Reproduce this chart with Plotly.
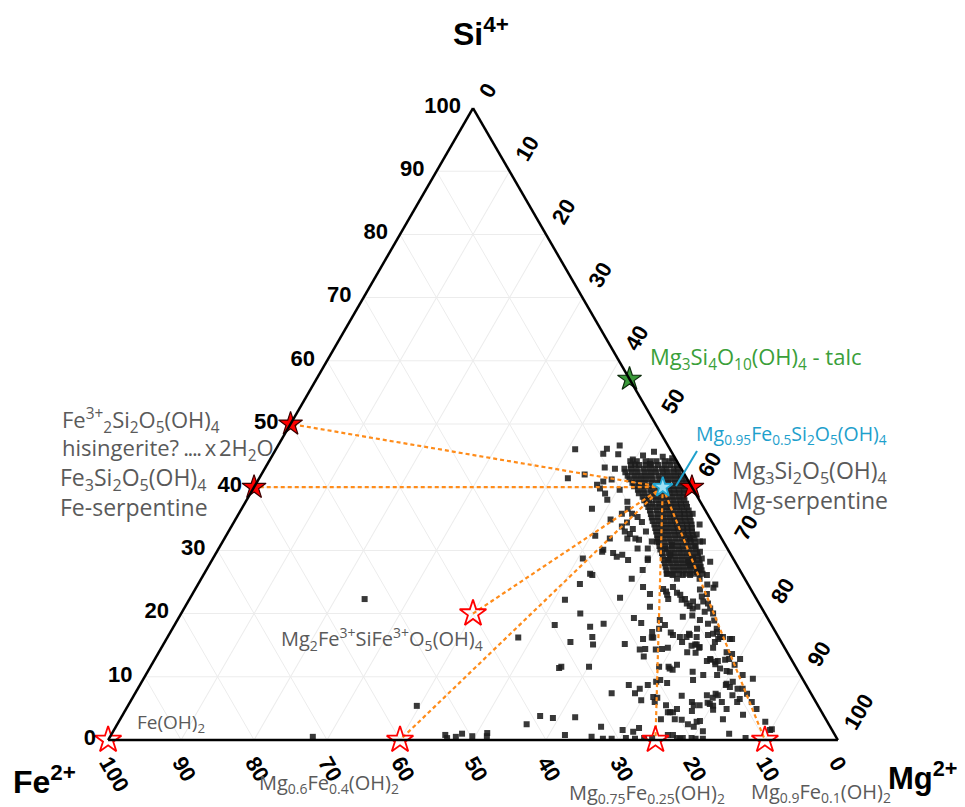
import plotly.graph_objects as go

# ---------------- data (percent; Fe = 100 - Si - Mg) ----------------
scatter_si = [22.3, 5.4, 16.2, 18.2, 11.4, 2.5, 3.8, 3.5, 0.8, 0.3, 0.5, 1.0, 0.6, 1.1, 0.6, 0.5,
              15.5, 16.3, 15.1, 15.2, 11.6, 11.6, 8.7, 7.4, 7.4, 6.3, 8.7, 16.2, 14.3, 14.4, 13.2, 14.3,
              11.6, 14.6, 16.6, 11.6, 11.1, 11.9, 9.5, 9.2, 9.0, 6.8, 6.7, 5.5, 4.4, 4.4, 4.9, 7.0,
              9.5, 10.8, 10.3, 6.0, 5.5, 4.6, 2.5, 2.9, 3.0, 2.1, 1.4, 16.3, 16.3, 16.3, 14.9, 15.1,
              14.6, 13.8, 14.6, 12.5, 12.7, 12.0, 12.5, 10.3, 10.9, 12.8, 13.6, 11.9, 12.8, 8.7, 8.4,
              8.1, 8.1, 6.5, 7.1, 7.3, 6.7, 5.9, 5.4, 3.3, 1.0, 0.3, 9.7, 10.3, 16.8, 16.3,
              3.6, 0.8, 0.5, 2.1, 0.2, 0.2, 1.6, 0.3, 1.3, 0.2, 1.9, 0.3, 0.3, 3.3, 0.8, 0.8, 0.3,
              0.3, 0.3, 0.2, 0.2, 0.2,
              32.3, 30.1, 29.6, 29.0, 29.3, 26.1, 32.6, 31.9, 31.7, 30.3, 28.5, 31.4, 31.4, 24.2, 23.1,
              22.5, 21.1, 18.4, 19.3, 18.5, 17.1, 16.2, 19.0, 17.6, 18.2, 17.0, 23.9, 23.5, 23.0, 22.3,
              24.2, 23.3, 23.0, 22.2, 22.3, 21.6, 21.2, 21.9, 21.1, 23.8, 24.6, 24.1, 23.1, 22.7, 21.9,
              21.6, 20.8, 20.3, 20.0, 19.0, 19.7, 19.5, 17.6, 18.4, 18.9, 17.1, 16.3, 16.0, 16.0, 16.8,
              26.3, 26.1, 25.5, 26.1, 26.1, 26.6, 25.5, 27.7, 28.7, 28.7, 28.5, 29.3, 30.3, 30.9, 30.6,
              31.4, 31.9,
              46.0, 46.1, 45.3, 46.6, 45.2, 44.4, 43.6, 43.7, 43.1, 42.9, 42.0, 41.4, 40.9, 41.2, 40.4,
              39.8, 39.0, 39.6, 38.0, 36.6, 37.7, 36.6, 35.8, 35.8, 34.9, 34.4, 35.3, 33.4, 34.5, 33.0,
              33.0, 31.9, 33.8, 31.9, 29.8, 28.7, 26.3, 24.7, 28.5, 30.3, 26.9, 25.5, 28.7,
              16.0, 14.4, 11.3, 15.5, 16.6, 13.9, 15.1, 14.7, 8.1, 6.0, 4.4, 3.3, 3.2, 5.5, 7.1, 5.7,
              4.8, 7.1, 6.0, 8.9, 9.2, 4.9, 6.0, 4.0, 7.3, 6.0, 4.9, 2.9, 1.7, 12.8, 12.4, 11.3, 12.7,
              10.8, 16.0, 13.9, 15.5, 16.6, 20.8, 17.6, 24.6, 26.1, 27.1, 28.2, 29.8, 28.2, 32.5, 31.4,
              34.1, 35.8, 22.2, 20.0, 17.9, 1.6, 45.0, 44.8, 45.6, 44.6]
scatter_mg = [24.0, 39.6, 48.1, 52.1, 56.1, 56.1, 57.3, 59.2, 45.8, 46.3, 47.4, 48.0, 49.6, 51.4, 51.6, 27.8,
              55.6, 58.2, 58.9, 63.2, 56.3, 60.1, 67.0, 65.3, 68.5, 69.9, 69.6, 66.4, 65.7, 66.4, 66.8, 67.9,
              69.7, 69.4, 69.1, 71.0, 71.8, 72.0, 70.9, 70.5, 72.1, 71.3, 71.9, 73.7, 74.5, 75.2, 75.5, 75.1,
              75.4, 74.7, 76.4, 77.0, 77.5, 77.7, 78.2, 79.2, 79.6, 79.2, 80.8, 70.2, 71.1, 72.5, 72.5, 73.1,
              73.7, 73.6, 75.6, 75.8, 76.2, 77.2, 77.3, 78.3, 79.3, 78.7, 78.7, 79.9, 80.2, 80.3, 81.0,
              82.2, 82.9, 83.3, 82.0, 79.6, 79.5, 79.2, 80.2, 82.6, 84.6, 87.2, 83.5, 81.8, 74.5, 75.7,
              62.2, 62.2, 66.0, 66.5, 67.7, 68.9, 69.7, 70.8, 71.3, 72.1, 71.8, 73.3, 74.4, 74.1, 76.3, 77.0, 77.8,
              78.6, 79.8, 80.4, 81.4, 78.3,
              50.6, 52.8, 54.4, 55.2, 55.8, 53.3, 55.2, 56.3, 56.9, 58.8, 59.7, 58.8, 59.5, 61.2, 62.7,
              58.9, 63.7, 58.7, 62.4, 63.8, 66.0, 66.6, 66.1, 66.7, 67.2, 68.6, 64.1, 64.7, 65.1, 65.6,
              65.3, 66.3, 66.9, 67.5, 67.9, 68.5, 69.1, 69.2, 70.2, 69.2, 69.8, 70.9, 70.5, 70.0, 70.6,
              71.4, 72.1, 71.6, 72.9, 71.6, 70.2, 69.0, 71.9, 73.0, 73.6, 74.9, 76.1, 77.2, 75.6, 71.2,
              63.4, 64.3, 65.2, 65.7, 66.7, 67.4, 68.3, 65.9, 65.8, 67.0, 62.5, 62.4, 61.2, 61.8, 65.2,
              65.4, 63.8,
              41.0, 45.3, 45.2, 46.8, 47.3, 49.7, 50.4, 52.4, 46.5, 48.0, 44.3, 42.3, 47.4, 48.4, 46.8,
              47.5, 48.6, 50.3, 49.4, 48.0, 52.3, 52.9, 52.5, 53.9, 51.4, 53.9, 54.9, 55.2, 55.9, 57.2,
              54.3, 52.8, 53.5, 55.2, 52.8, 50.7, 52.9, 52.3, 57.0, 57.4, 59.8, 59.0, 59.6,
              65.3, 68.7, 71.3, 70.9, 71.4, 72.4, 72.9, 73.7, 68.8, 71.9, 74.8, 76.0, 77.0, 78.3, 78.5, 79.6,
              80.5, 80.0, 81.1, 80.3, 81.0, 82.3, 83.2, 85.0, 83.9, 85.2, 86.4, 88.6, 90.1, 76.1, 77.0, 78.2, 78.2,
              79.8, 77.5, 77.8, 75.4, 73.9, 69.7, 74.6, 70.9, 69.0, 67.5, 65.4, 66.2, 68.4, 64.4, 65.8,
              64.0, 62.2, 51.5, 54.7, 57.1, 89.9, 50.8, 53.6, 52.0, 55.0]

# dense core of the analyses (rows of constant Si)
band_si = [44.1, 43.5, 42.9, 42.35, 41.8, 41.25, 40.7, 40.15, 39.6, 39.05, 38.5, 37.95, 37.4, 36.85,
           36.3, 35.75, 35.2, 34.65, 34.1, 33.55, 33.0, 32.45, 31.9, 31.3, 30.7, 30.15, 29.6, 29.05,
           28.5, 27.95, 27.4, 26.85, 26.3]
band_mg = [
    [49.5, 50.4, 51.6, 52.3, 53.1, 54.2, 54.9, 55.7],
    [49.9, 51.0, 51.9, 52.7, 53.6, 54.5, 55.3, 56.2],
    [49.3, 50.2, 51.0, 51.9, 52.7, 53.5, 54.4, 55.1, 56.0, 56.6, 57.3],
    [49.7, 50.6, 51.4, 52.3, 53.1, 53.9, 54.8, 55.5, 56.3, 57.0, 57.7],
    [50.3, 51.2, 52.0, 52.8, 53.6, 54.5, 55.3, 56.1, 56.9, 57.6, 58.3],
    [50.8, 51.6, 52.4, 53.2, 54.0, 54.9, 55.7, 56.5, 57.3, 58.0, 58.6],
    [51.5, 52.4, 53.2, 54.1, 54.9, 55.6, 56.4, 57.3, 58.0, 58.8],
    [52.0, 52.8, 53.6, 54.5, 55.3, 56.0, 56.8, 57.6, 58.4, 59.0],
    [52.8, 53.6, 54.5, 55.3, 56.2, 57.0, 57.7, 58.4, 59.1],
    [53.2, 54.0, 54.9, 55.7, 56.6, 57.4, 58.1, 58.8, 59.4],
    [54.0, 54.8, 55.7, 56.5, 57.3, 58.1, 58.9, 59.6],
    [54.5, 55.2, 56.1, 56.9, 57.7, 58.5, 59.3, 60.0],
    [55.1, 55.9, 56.8, 57.6, 58.3, 59.1, 59.8, 60.5],
    [55.6, 56.4, 57.2, 58.0, 58.7, 59.5, 60.2, 60.9],
    [56.1, 57.0, 57.8, 58.6, 59.3, 60.1, 60.8, 61.4],
    [56.5, 57.4, 58.2, 59.0, 59.7, 60.5, 61.1, 61.8],
    [56.9, 57.7, 58.5, 59.3, 60.0, 60.7, 61.4, 62.1],
    [57.3, 58.1, 58.9, 59.7, 60.4, 61.1, 61.8, 62.5],
    [57.8, 58.6, 59.4, 60.2, 60.9, 61.6, 62.3, 62.9],
    [58.2, 59.0, 59.8, 60.6, 61.3, 62.0, 62.6, 63.2],
    [58.6, 59.4, 60.2, 61.0, 61.7, 62.3, 62.9, 63.5],
    [59.0, 59.8, 60.6, 61.4, 62.1, 62.7, 63.3, 63.9],
    [59.4, 60.2, 61.0, 61.8, 62.6, 63.2, 63.8, 64.4],
    [59.8, 60.6, 61.4, 62.2, 63.0, 63.6, 64.2, 64.7],
    [60.2, 61.0, 61.9, 62.7, 63.4, 64.2, 65.0],
    [60.6, 61.5, 62.3, 63.1, 63.8, 64.6, 65.4],
    [61.1, 62.0, 62.8, 63.6, 64.4, 65.1, 65.9],
    [61.5, 62.4, 63.2, 64.0, 64.8, 65.5, 66.3],
    [61.9, 62.7, 63.5, 64.3, 65.1, 65.9, 66.7],
    [62.3, 63.1, 63.9, 64.7, 65.5, 66.3, 67.1],
    [62.7, 63.6, 64.4, 65.2, 66.0, 66.8, 67.5],
    [63.1, 64.0, 64.8, 65.6, 66.4, 67.2, 67.9],
    [63.5, 64.3, 65.1, 66.0, 66.8, 67.6, 68.3],
]

# reference phases (Si, Fe, Mg)
open_si = [0, 0, 0, 0, 20]
open_fe = [100, 60, 25, 10, 40]
open_mg = [0, 40, 75, 90, 40]

red_si = [50, 40, 40]
red_fe = [50, 60, 0]
red_mg = [0, 0, 60]

talc_si, talc_fe, talc_mg = [57.1], [0.0], [42.9]
mean_si, mean_fe, mean_mg = [40.0], [4.0], [56.0]

# tie-line end members (indices into red_* and open_*)
tie_red = [0, 1]
tie_open = [4, 1, 2, 3]

axis_ticks = [0, 10, 20, 30, 40, 50, 60, 70, 80, 90, 100]

# ---------------- figure ----------------
W, H = 965, 807
pts_si = list(scatter_si)
pts_mg = list(scatter_mg)
for s, row in zip(band_si, band_mg):
    for m in row:
        pts_si.append(s)
        pts_mg.append(m)
pts_fe = [round(100 - s - m, 2) for s, m in zip(pts_si, pts_mg)]

fig = go.Figure()
fig.add_trace(go.Scatterternary(
    a=pts_si, b=pts_fe, c=pts_mg, mode='markers',
    marker=dict(symbol='square', size=6, color='#1c1c1c', opacity=0.88, line=dict(width=0)),
    showlegend=False, hoverinfo='skip'))

ORANGE = '#ff8c1a'
tie_ends = [(red_si[i], red_fe[i], red_mg[i]) for i in tie_red] + \
           [(open_si[i], open_fe[i], open_mg[i]) for i in tie_open]
for (s, f, m) in tie_ends:
    fig.add_trace(go.Scatterternary(
        a=[mean_si[0], s], b=[mean_fe[0], f], c=[mean_mg[0], m], mode='lines',
        line=dict(color=ORANGE, width=2.2, dash='4px,3px'), showlegend=False, hoverinfo='skip'))

fig.add_trace(go.Scatterternary(
    a=open_si, b=open_fe, c=open_mg, mode='markers',
    marker=dict(symbol='star-open', size=20, color='#ff0000', line=dict(width=1.8, color='#ff0000')),
    showlegend=False, hoverinfo='skip', cliponaxis=False))
fig.add_trace(go.Scatterternary(
    a=red_si, b=red_fe, c=red_mg, mode='markers',
    marker=dict(symbol='star', size=18, color='#ff0000', line=dict(width=1.2, color='#3a0000')),
    showlegend=False, hoverinfo='skip', cliponaxis=False))
fig.add_trace(go.Scatterternary(
    a=talc_si, b=talc_fe, c=talc_mg, mode='markers',
    marker=dict(symbol='star', size=18, color='#3a9a3a', line=dict(width=1.2, color='#0b2a0b')),
    showlegend=False, hoverinfo='skip', cliponaxis=False))
fig.add_trace(go.Scatterternary(
    a=mean_si, b=mean_fe, c=mean_mg, mode='markers',
    marker=dict(symbol='star', size=15, color='#9fe0f5', line=dict(width=1.8, color='#1fa3cf')),
    showlegend=False, hoverinfo='skip', cliponaxis=False))

TICKFONT = dict(family='Liberation Sans', size=22, color='black', weight='bold')
common = dict(tickmode='array', tickvals=axis_ticks, ticktext=[str(v) for v in axis_ticks],
              showgrid=True, gridcolor='#ececec', gridwidth=1,
              linecolor='black', linewidth=2.5, showline=True, tickfont=TICKFONT, title=dict(text=''),
              min=0)

fig.update_layout(
    width=W, height=H, margin=dict(l=0, r=0, t=0, b=0),
    paper_bgcolor='white', plot_bgcolor='white',
    ternary=dict(
        sum=100, bgcolor='white',
        domain=dict(x=[100 / W, 830 / W], y=[1 - 732 / H, 1 - 100 / H]),
        aaxis=dict(**common, tickangle=0, ticks='outside', ticklen=8, tickcolor='rgba(0,0,0,0)'),
        baxis=dict(**common, tickangle=60, ticks=''),
        caxis=dict(**common, tickangle=-60, ticks='outside', ticklen=9, tickcolor='rgba(0,0,0,0)'),
    ),
)

GRAY = '#5a5a5a'
LBL = 'Open Sans'


def ann(text, x, y, size=23, color=GRAY, xanchor='left', yanchor='middle', bold=False, family=LBL):
    return dict(text=text, x=x / W, y=1 - y / H, xref='paper', yref='paper', showarrow=False,
                xanchor=xanchor, yanchor=yanchor, align='left', borderpad=0,
                font=dict(size=size, color=color, family=family, weight='bold' if bold else 'normal'))


anns = [
    ann('Si<sup>4+</sup>', 473, 24, size=32, color='black', xanchor='center', bold=True, family='Liberation Sans'),
    ann('Fe<sup>2+</sup>', 4, 772, size=32, color='black', bold=True, family='Liberation Sans'),
    ann('Mg<sup>2+</sup>', 879, 768, size=31, color='black', bold=True, family='Liberation Sans'),
    ann('Fe<sup>3+</sup><sub>2</sub>Si<sub>2</sub>O<sub>5</sub>(OH)<sub>4</sub>', 53, 412, size=22),
    ann('hisingerite?<span style="letter-spacing:-1.5px"> .... x </span>2H<sub>2</sub>O', 53, 441, size=22),
    ann('Fe<sub>3</sub>Si<sub>2</sub>O<sub>5</sub>(OH)<sub>4</sub><br>Fe-serpentine', 51, 484),
    ann('Mg<sub>3</sub>Si<sub>4</sub>O<sub>10</sub>(OH)<sub>4</sub> - talc', 641, 350, size=22, color='#3a9f3a'),
    ann('Mg<sub>0.95</sub>Fe<sub>0.5</sub>Si<sub>2</sub>O<sub>5</sub>(OH)<sub>4</sub>', 687, 426, size=19.5,
        color='#1ea0cc'),
    ann('Mg<sub>3</sub>Si<sub>2</sub>O<sub>5</sub>(OH)<sub>4</sub><br>Mg-serpentine', 723, 477),
    ann('Mg<sub>2</sub>Fe<sup>3+</sup>SiFe<sup>3+</sup>O<sub>5</sub>(OH)<sub>4</sub>', 272, 631, size=20),
    ann('Fe(OH)<sub>2</sub>', 128, 715, size=19),
    ann('Mg<sub>0.6</sub>Fe<sub>0.4</sub>(OH)<sub>2</sub>', 250, 775, size=20),
    ann('Mg<sub>0.75</sub>Fe<sub>0.25</sub>(OH)<sub>2</sub>', 560, 801, size=20, yanchor='bottom'),
    ann('Mg<sub>0.9</sub>Fe<sub>0.1</sub>(OH)<sub>2</sub>', 742, 800, size=20, yanchor='bottom'),
]
fig.update_layout(annotations=anns)
fig.add_shape(type='line', xref='paper', yref='paper',
              x0=689 / W, y0=1 - 443 / H, x1=668 / W, y1=1 - 478 / H,
              line=dict(color='#1ea0cc', width=2))

fig.write_html('out.html')
